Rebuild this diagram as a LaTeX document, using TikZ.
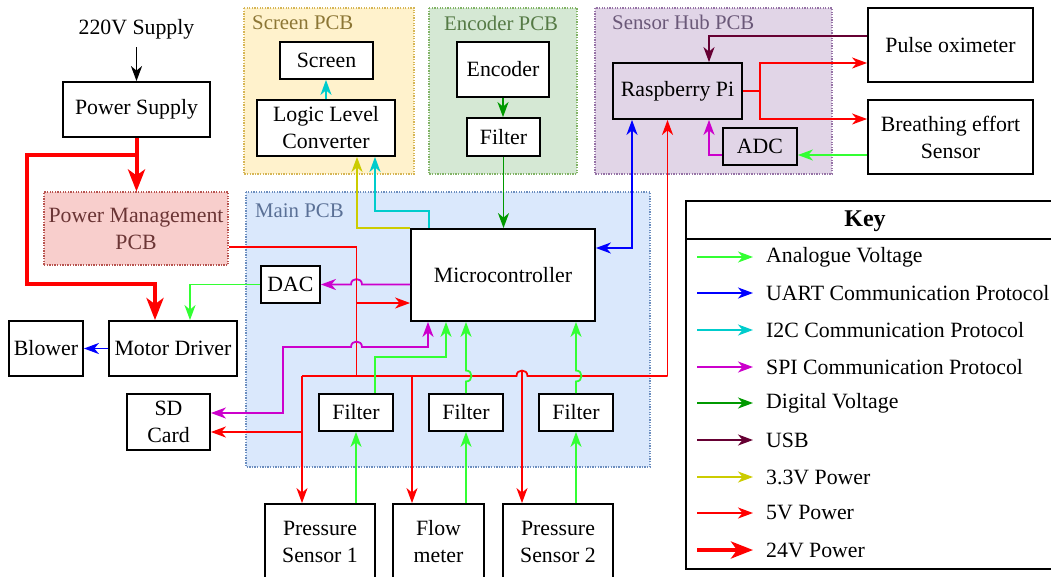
\documentclass[tikz,border=0pt]{standalone}
\usepackage{fontspec}
\setmainfont{Liberation Serif}
\usetikzlibrary{arrows.meta}

% signal colours
\definecolor{cAna}{HTML}{33FF33}
\definecolor{cUart}{HTML}{0000FF}
\definecolor{cIic}{HTML}{00CCCC}
\definecolor{cSpi}{HTML}{CC00CC}
\definecolor{cDig}{HTML}{009900}
\definecolor{cUsb}{HTML}{660033}
\definecolor{cThree}{HTML}{CCCC00}
\definecolor{cFive}{HTML}{FF0000}
% board colours (fill, border, label)
\definecolor{scrF}{HTML}{FFF2CC}\definecolor{scrD}{HTML}{D6B656}\definecolor{scrT}{HTML}{8C7635}
\definecolor{encF}{HTML}{D5E8D4}\definecolor{encD}{HTML}{82B366}\definecolor{encT}{HTML}{557A45}
\definecolor{hubF}{HTML}{E1D5E7}\definecolor{hubD}{HTML}{9673A6}\definecolor{hubT}{HTML}{6A5878}
\definecolor{mainF}{HTML}{DAE8FC}\definecolor{mainD}{HTML}{6C8EBF}\definecolor{mainT}{HTML}{5A7096}
\definecolor{pmF}{HTML}{F8CECC}\definecolor{pmD}{HTML}{B85450}\definecolor{pmT}{HTML}{6B3535}

\newcommand\bodyfont{\fontsize{21.8}{27}\selectfont}
\newcommand\boardfont{\fontsize{20.8}{25}\selectfont}
\newcommand\keyfont{\fontsize{24}{28}\selectfont\bfseries}

\begin{document}
\begin{tikzpicture}[x=1pt, y=-1pt,
  >={Stealth[length=15pt,width=11pt,inset=4.5pt]},
  box/.style={draw, line width=1.8pt, fill=white, inner sep=0pt, align=center, font=\bodyfont},
  plain/.style={inner sep=0pt, align=center, font=\bodyfont},
  filt/.style={box, minimum width=74pt, minimum height=37pt},
  sens/.style={box, minimum height=76pt},
  panel/.style={line width=1.1pt, dash pattern=on 1.3pt off 1.3pt},
  boardlbl/.style={inner sep=0pt, anchor=west, font=\boardfont},
  wire/.style={line width=1.8pt},
  blk/.style={wire, draw=black},
  ana/.style={wire, draw=cAna},
  uart/.style={wire, draw=cUart},
  iic/.style={wire, draw=cIic},
  spi/.style={wire, draw=cSpi},
  dig/.style={wire, draw=cDig},
  usb/.style={wire, draw=cUsb},
  three/.style={wire, draw=cThree},
  five/.style={wire, draw=cFive},
  power/.style={line width=4pt, draw=cFive, -{Stealth[length=22pt,width=17pt,inset=6pt]}},
  keyana/.style={ana, ->},
  keyuart/.style={uart, ->},
  keyiic/.style={iic, ->},
  keyspi/.style={spi, ->},
  keydig/.style={dig, ->},
  keyusb/.style={usb, ->},
  keythree/.style={three, ->},
  keyfive/.style={five, ->},
  keypower/.style={power},
]
\useasboundingbox (0,0) rectangle (1051,576);
\clip (0,0) rectangle (1051,576);
\fill[white] (0,0) rectangle (1051,576);

% ---------- boards ----------
\filldraw[panel, fill=scrF, draw=scrD] (244,8) rectangle (414,174);
\filldraw[panel, fill=encF, draw=encD] (429,8) rectangle (577,174);
\filldraw[panel, fill=hubF, draw=hubD] (595,8) rectangle (832,174);
\filldraw[panel, fill=mainF, draw=mainD] (246,192) rectangle (650,467);
\node[boardlbl, text=scrT] (scrlbl) at (252,23) {Screen PCB};
\node[boardlbl, text=encT] (enclbl) at (444,23) {Encoder PCB};
\node[boardlbl, text=hubT] (hublbl) at (612,22) {Sensor Hub PCB};
\node[boardlbl, text=mainT] (mainlbl) at (255,211) {Main PCB};

% ---------- blocks ----------
\node[plain] (supply) at (136.5,29) {220V Supply};
\node[box, minimum width=147pt, minimum height=55pt] (ps) at (136.5,109.5) {Power Supply};
\node[box, panel, fill=pmF, draw=pmD, text=pmT, minimum width=184pt, minimum height=73pt] (pm) at (136,228.5) {Power Management\\PCB};
\node[box, minimum width=128pt, minimum height=55pt] (md) at (173,348.5) {Motor Driver};
\node[box, minimum width=74pt, minimum height=55pt] (blower) at (46,348.5) {Blower};
\node[box, minimum width=83pt, minimum height=56pt] (sd) at (168.5,422) {SD\\Card};

\node[box, minimum width=184pt, minimum height=92pt] (mcu) at (503,275) {Microcontroller};
\node[box, minimum width=59pt, minimum height=37pt] (dac) at (290.5,284.5) {DAC};
\node[filt] (f1) at (356,412.5) {Filter};
\node[filt] (f2) at (466,412.5) {Filter};
\node[filt] (f3) at (576,412.5) {Filter};

\node[sens, minimum width=110pt] (ps1) at (320,542) {Pressure\\Sensor 1};
\node[sens, minimum width=91pt] (flow) at (438.5,542) {Flow\\meter};
\node[sens, minimum width=110pt] (ps2) at (558,542) {Pressure\\Sensor 2};

\node[box, minimum width=93pt, minimum height=37pt] (screen) at (326.5,60.5) {Screen};
\node[box, minimum width=138pt, minimum height=56pt] (llc) at (326,128) {Logic Level\\Converter};

\node[box, minimum width=92pt, minimum height=55pt] (enc) at (503,69.5) {Encoder};
\node[box, minimum width=73pt, minimum height=38pt] (encf) at (503.5,137) {Filter};

\node[box, fill=hubF, minimum width=129pt, minimum height=56pt] (rpi) at (677.5,91) {Raspberry Pi};
\node[box, fill=hubF, minimum width=74pt, minimum height=37pt] (adc) at (760,146.5) {ADC};
\node[box, minimum width=165pt, minimum height=74pt] (po) at (950.5,45) {Pulse oximeter};
\node[box, minimum width=165pt, minimum height=74pt] (bes) at (950.5,137) {Breathing effort\\Sensor};

% ---------- mains and 24 V ----------
\draw[blk, ->, shorten <=8pt] (supply.south) -- (supply.south |- ps.north);
\coordinate (split24) at (136.5,155);
\coordinate (bend24) at (27,284);
\draw[power] (ps.south) -- (ps.south |- pm.north);
\draw[power] (split24) -| (bend24) -| ([xshift=-18pt]md.north);
\draw[uart, ->] (md) -- (blower);

% ---------- DAC ----------
\draw[ana, ->] (dac.west) -| ([xshift=17pt]md.north);
\draw[spi, ->] (mcu.west |- dac.east) -- (362,284.5)
  .. controls (362,277.2) and (351,277.2) .. (351,284.5) -- (dac.east);

% ---------- 5 V distribution ----------
\coordinate (bus5w) at (302,376);
\coordinate (bus5e) at (667.5,376);
\coordinate (drop5) at (356.5,376);
\draw[five] ([yshift=-18.5pt]pm.east) -| (drop5);
\draw[five, ->] (356.5,303) -- ([yshift=-28pt]mcu.west);
\draw[five] (bus5w) -- (516.5,376)
  .. controls (516.5,368.7) and (527.5,368.7) .. (527.5,376) -- (bus5e);
\draw[five, ->] (bus5e) -- ([xshift=-10pt]rpi.south);
\draw[five, ->] (bus5w) -- ([xshift=-18pt]ps1.north);
\draw[five, ->] (302,432) -- ([yshift=-10pt]sd.east);
\draw[five, ->] (412,376) -- ([xshift=-26.5pt]flow.north);
\draw[five, ->] (522,370.5) -- ([xshift=-36pt]ps2.north);

% ---------- SD card SPI ----------
\draw[spi, <->] ([yshift=9pt]sd.east) -- (283,413) -- (283,347) -- (351,347)
  .. controls (351,339.7) and (362,339.7) .. (362,347) -- (428,347)
  -- ([xshift=-75pt]mcu.south);

% ---------- sensor signals ----------
\draw[ana, ->] ([xshift=19pt]f1.north) -- (375,357) -- (446,357) -- ([xshift=-57pt]mcu.south);
\draw[ana, ->] (f2.north) -- (466,381.5)
  .. controls (473.3,381.5) and (473.3,370.5) .. (466,370.5) -- (f2.north |- mcu.south);
\draw[ana, ->] (f3.north) -- (576,381.5)
  .. controls (583.3,381.5) and (583.3,370.5) .. (576,370.5) -- (f3.north |- mcu.south);
\draw[ana, ->] (f1.south |- ps1.north) -- (f1.south);
\draw[ana, ->] (f2.south |- flow.north) -- (f2.south);
\draw[ana, ->] (f3.south |- ps2.north) -- (f3.south);

% ---------- screen board ----------
\draw[three, ->] (mcu.north west) -| ([xshift=31pt]llc.south);
\draw[iic, ->] ([xshift=-74pt]mcu.north) -- (429,211) -- (375,211) -- ([xshift=49pt]llc.south);
\draw[iic, ->] (llc.north) -- (llc.north |- screen.south);

% ---------- encoder board ----------
\draw[dig, ->] (enc.south) -- (enc.south |- encf.north);
\draw[dig, ->] (encf.south) -- (encf.south |- mcu.north);

% ---------- sensor hub ----------
\draw[uart, <->] ([yshift=27pt]mcu.east) -| ([xshift=-45.5pt]rpi.south);
\draw[usb, ->] ([yshift=9pt]po.west) -| ([xshift=31.5pt]rpi.north);
\coordinate (split5) at (760,91);
\draw[five] (rpi.east) -- (split5);
\draw[five, ->] (split5) |- ([yshift=-18pt]po.west);
\draw[five, ->] (split5) |- ([yshift=18pt]bes.west);
\draw[ana, ->] ([yshift=-18pt]bes.west) -- ([yshift=-8.5pt]adc.east);
\draw[spi, ->] ([yshift=-8.5pt]adc.west) -| ([xshift=31.5pt]rpi.south);

% ---------- key ----------
\draw[line width=1.8pt] (686,201) rectangle (1060,569);
\draw[line width=1.8pt] (686,239) -- (1060,239);
\node[plain, font=\keyfont] (keytitle) at (865,221) {Key};
\foreach \y/\st/\txt [count=\i] in {
  257/keyana/Analogue Voltage,
  293/keyuart/UART Communication Protocol,
  330/keyiic/I2C Communication Protocol,
  367/keyspi/SPI Communication Protocol,
  403/keydig/Digital Voltage,
  440/keyusb/USB,
  477/keythree/3.3V Power,
  513/keyfive/5V Power,
  550/keypower/24V Power}{
  \coordinate (ks\i) at (697,\y);
  \coordinate (ke\i) at (753,\y);
  \draw[\st] (ks\i) -- (ke\i);
  \node[plain, anchor=west] (kt\i) at (766,\y) {\txt};
}
\end{tikzpicture}
\end{document}
